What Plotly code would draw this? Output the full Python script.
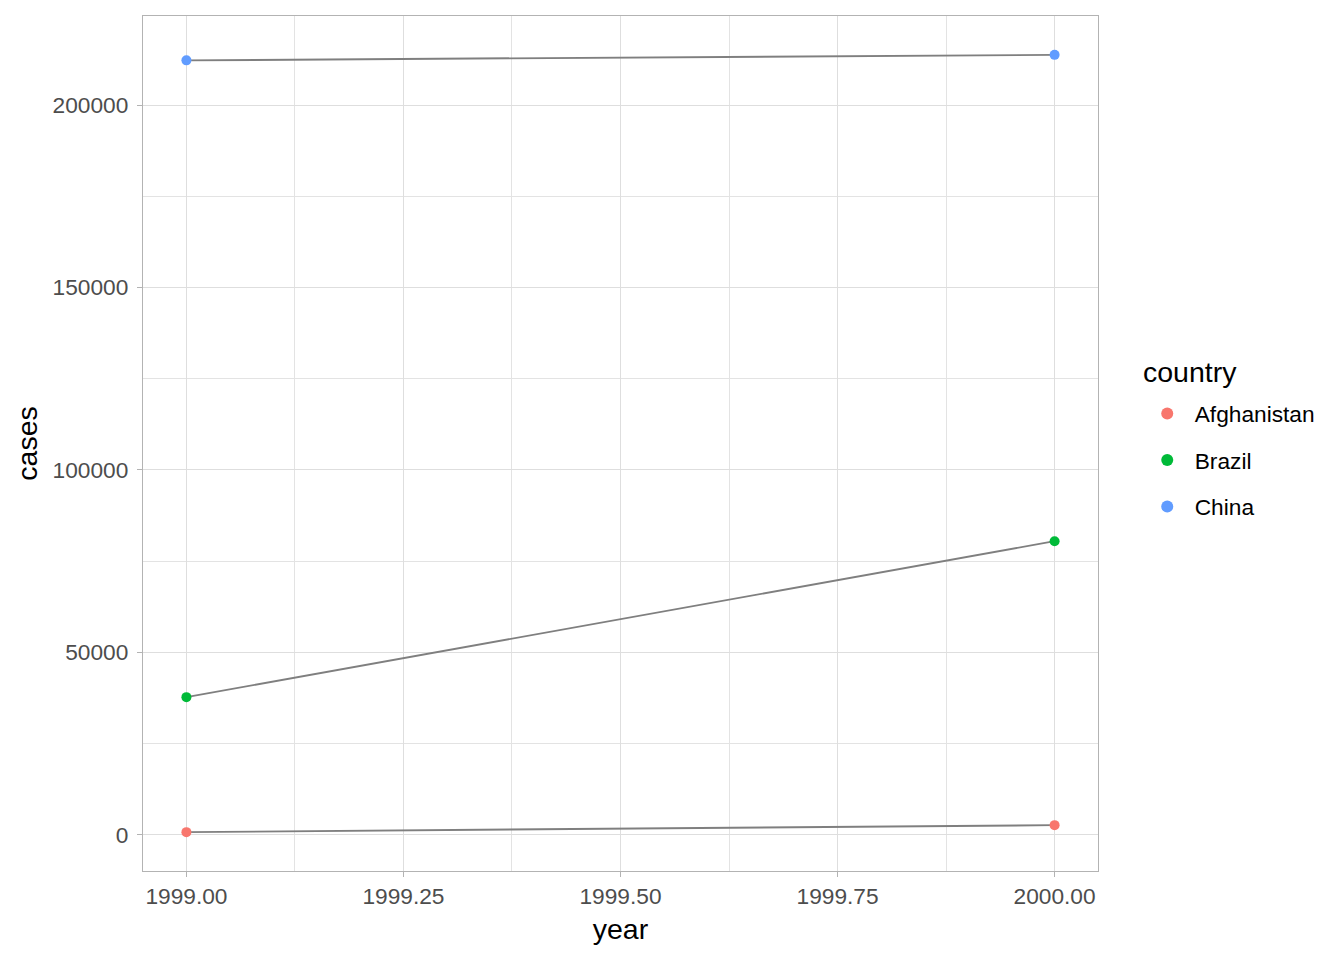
import plotly.graph_objects as go

countries = ["Afghanistan", "Brazil", "China"]
years = [1999, 2000]
cases = {
    "Afghanistan": [745, 2666],
    "Brazil": [37737, 80488],
    "China": [212258, 213766],
}
colors = {"Afghanistan": "#F8766D", "Brazil": "#00BA38", "China": "#619CFF"}
x_ticks = [1999.0, 1999.25, 1999.5, 1999.75, 2000.0]
y_ticks = [0, 50000, 100000, 150000, 200000]

FONT = "Liberation Sans, Arial, sans-serif"
fig = go.Figure()
for c in countries:
    fig.add_trace(go.Scatter(x=years, y=cases[c], mode="lines",
                             line=dict(color="#7f7f7f", width=1.9),
                             showlegend=False, hoverinfo="skip"))
for c in countries:
    fig.add_trace(go.Scatter(x=years, y=cases[c], mode="markers", name=c,
                             legendgroup=c,
                             marker=dict(color=colors[c], size=10)))

axis_common = dict(showline=True, mirror=True, linecolor="#b3b3b3", linewidth=1.3,
                   showgrid=True, gridcolor="#dedede", gridwidth=1,
                   ticks="outside", ticklen=5, tickcolor="#b3b3b3", tickwidth=1.2,
                   tickfont=dict(size=22.7, color="#4d4d4d", family=FONT),
                   zeroline=False)

fig.update_xaxes(range=[1998.95, 2000.05], tickvals=x_ticks,
                 ticktext=[f"{v:.2f}" for v in x_ticks],
                 title=dict(text="year", font=dict(size=28.5, color="black", family=FONT), standoff=10),
                 minor=dict(tickvals=[1999.125, 1999.375, 1999.625, 1999.875],
                            showgrid=True, gridcolor="#e3e3e3", gridwidth=1, ticks=""),
                 **axis_common)
fig.update_yaxes(range=[-9906, 224417], tickvals=y_ticks,
                 ticktext=[str(v) for v in y_ticks],
                 ticklabelstandoff=4,
                 title=dict(text="cases", font=dict(size=28.5, color="black", family=FONT), standoff=6),
                 minor=dict(tickvals=[25000, 75000, 125000, 175000],
                            showgrid=True, gridcolor="#e3e3e3", gridwidth=1, ticks=""),
                 **axis_common)

fig.add_annotation(text="country", xref="paper", yref="paper", x=1.045, y=0.5836,
                   xanchor="left", yanchor="middle", showarrow=False,
                   font=dict(size=28.5, color="black", family=FONT))

fig.update_layout(
    width=1344, height=960,
    margin=dict(l=135, r=254, t=8, b=97),
    plot_bgcolor="white", paper_bgcolor="white",
    font=dict(family=FONT, color="black"),
    legend=dict(font=dict(size=22.7, color="black", family=FONT),
                x=1.0437, xanchor="left", y=0.560, yanchor="top",
                tracegroupgap=14, itemsizing="constant", itemwidth=45),
)
fig.write_html("out.html")
